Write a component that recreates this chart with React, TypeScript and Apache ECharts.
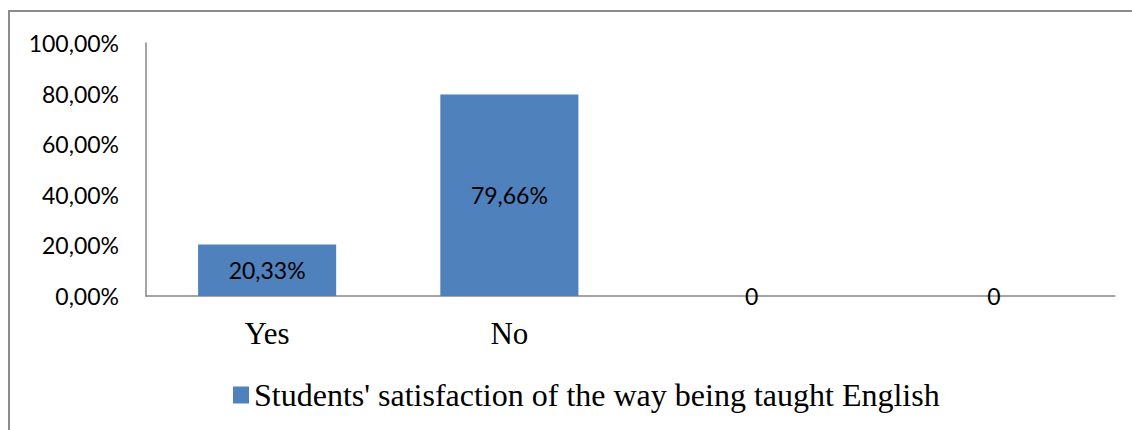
import React, { useEffect, useRef } from "react";
import * as echarts from "echarts";

const categories: string[] = ["Yes", "No", "", ""];
const values: number[] = [20.33, 79.66, 0, 0];
const seriesName = "Students' satisfaction of the way being taught English";
const yTicks = { min: 0, max: 100, interval: 20 };

const fmtPct = (v: number) => v.toFixed(2).replace(".", ",") + "%";

export default function App() {
  const ref = useRef<HTMLDivElement>(null);

  useEffect(() => {
    document.body.style.margin = "0";
    if (!ref.current) return;
    const chart = echarts.init(ref.current, undefined, { renderer: "svg" });
    chart.setOption({
      animation: false,
      backgroundColor: "#ffffff",
      graphic: [
        {
          type: "rect",
          shape: { x: 9, y: 11, width: 1200, height: 500 },
          style: { fill: "none", stroke: "#8c8c8c", lineWidth: 2 },
          silent: true,
        },
      ],
      grid: { left: 146, right: 17, top: 43, bottom: 134 },
      legend: {
        left: 228,
        top: 374,
        itemWidth: 16,
        itemHeight: 17,
        itemGap: 8,
        icon: "rect",
        textStyle: {
          fontFamily: "Liberation Serif",
          fontSize: 32,
          color: "#000000",
        },
        data: [seriesName],
      },
      xAxis: {
        type: "category",
        data: categories,
        axisLine: { show: true, lineStyle: { color: "#878787", width: 1.5 } },
        axisTick: { show: false },
        axisLabel: {
          margin: 22,
          fontFamily: "Liberation Serif",
          fontSize: 31,
          color: "#000000",
        },
      },
      yAxis: {
        type: "value",
        min: yTicks.min,
        max: yTicks.max,
        interval: yTicks.interval,
        splitLine: { show: false },
        axisTick: { show: false },
        axisLine: { show: true, lineStyle: { color: "#878787", width: 1.5 } },
        axisLabel: {
          margin: 27,
          fontFamily: "Lato",
          fontSize: 23,
          color: "#000000",
          formatter: (v: number) => fmtPct(v),
        },
      },
      series: [
        {
          name: seriesName,
          type: "bar",
          data: values,
          barWidth: "57%",
          itemStyle: { color: "#4f81bd" },
          label: {
            show: true,
            position: "inside",
            fontFamily: "Lato",
            fontSize: 23,
            color: "#000000",
            formatter: (p: any) => (p.value === 0 ? "0" : fmtPct(p.value)),
          },
        },
      ],
    });
    return () => chart.dispose();
  }, []);

  return <div ref={ref} style={{ width: 1132, height: 430 }} />;
}
